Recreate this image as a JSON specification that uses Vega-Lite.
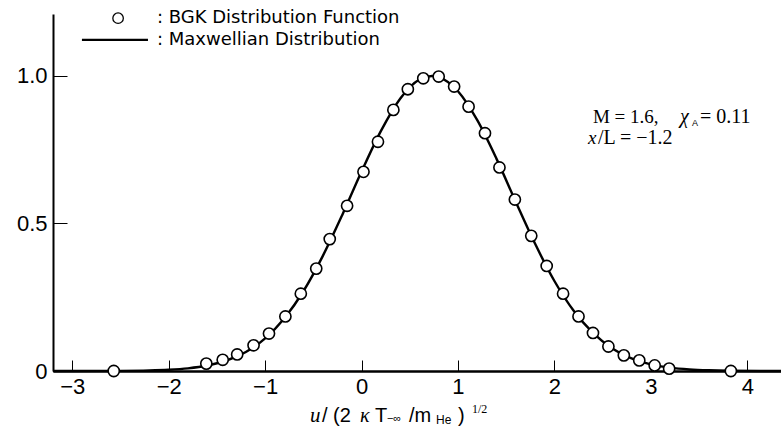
{
  "$schema": "https://vega.github.io/schema/vega-lite/v6.json",
  "width": 728,
  "height": 357,
  "autosize": {"type": "none"},
  "padding": {"left": 53, "top": 14, "right": 0, "bottom": 64},
  "background": "white",
  "config": {
    "view": {"stroke": null},
    "font": "Liberation Sans",
    "axis": {"grid": false}
  },
  "datasets": {
    "maxwell": [
      {"u": -3.2, "f": 0.0}, {"u": -2.5, "f": 0.0005}, {"u": -2.2, "f": 0.0018},
      {"u": -2.0, "f": 0.0042}, {"u": -1.8, "f": 0.009}, {"u": -1.6, "f": 0.0185},
      {"u": -1.4, "f": 0.0356}, {"u": -1.2, "f": 0.0646}, {"u": -1.0, "f": 0.1107},
      {"u": -0.8, "f": 0.179}, {"u": -0.6, "f": 0.272}, {"u": -0.4, "f": 0.391},
      {"u": -0.2, "f": 0.529}, {"u": 0.0, "f": 0.676}, {"u": 0.2, "f": 0.813},
      {"u": 0.4, "f": 0.923}, {"u": 0.6, "f": 0.988}, {"u": 0.73, "f": 1.0},
      {"u": 0.8, "f": 0.996}, {"u": 1.0, "f": 0.948}, {"u": 1.2, "f": 0.85},
      {"u": 1.4, "f": 0.719}, {"u": 1.6, "f": 0.573}, {"u": 1.8, "f": 0.431},
      {"u": 2.0, "f": 0.305}, {"u": 2.2, "f": 0.204}, {"u": 2.4, "f": 0.129},
      {"u": 2.6, "f": 0.0765}, {"u": 2.8, "f": 0.0428}, {"u": 3.0, "f": 0.0226},
      {"u": 3.2, "f": 0.0113}, {"u": 3.4, "f": 0.0053}, {"u": 3.6, "f": 0.0023},
      {"u": 3.8, "f": 0.0009}, {"u": 4.35, "f": 0.0}
    ],
    "bgk": [
      {"u": -2.57, "f": 0.0}, {"u": -1.61, "f": 0.025}, {"u": -1.44, "f": 0.038},
      {"u": -1.29, "f": 0.056}, {"u": -1.12, "f": 0.087}, {"u": -0.96, "f": 0.127},
      {"u": -0.79, "f": 0.185}, {"u": -0.63, "f": 0.262}, {"u": -0.47, "f": 0.347},
      {"u": -0.33, "f": 0.447}, {"u": -0.15, "f": 0.56}, {"u": 0.02, "f": 0.675},
      {"u": 0.17, "f": 0.777}, {"u": 0.33, "f": 0.885}, {"u": 0.48, "f": 0.955},
      {"u": 0.64, "f": 0.992}, {"u": 0.8, "f": 0.998}, {"u": 0.96, "f": 0.964},
      {"u": 1.11, "f": 0.896}, {"u": 1.28, "f": 0.806}, {"u": 1.43, "f": 0.69},
      {"u": 1.59, "f": 0.581}, {"u": 1.76, "f": 0.458}, {"u": 1.92, "f": 0.356},
      {"u": 2.09, "f": 0.262}, {"u": 2.25, "f": 0.185}, {"u": 2.4, "f": 0.129},
      {"u": 2.56, "f": 0.083}, {"u": 2.72, "f": 0.053}, {"u": 2.88, "f": 0.036},
      {"u": 3.04, "f": 0.019}, {"u": 3.19, "f": 0.008}, {"u": 3.83, "f": 0.0}
    ]
  },
  "layer": [
    {
      "data": {"name": "maxwell"},
      "mark": {"type": "line", "color": "black", "strokeWidth": 2.4, "interpolate": "monotone", "clip": false},
      "encoding": {
        "x": {
          "field": "u", "type": "quantitative",
          "scale": {"domain": [-3.2, 4.35], "nice": false, "zero": false},
          "axis": {
            "title": null,
            "values": [-3, -2, -1, 0, 1, 2, 3, 4],
            "format": "d",
            "tickSize": -11, "tickWidth": 1, "tickColor": "black",
            "domainColor": "black", "domainWidth": 2.5,
            "labelFontSize": 22, "labelColor": "black", "labelPadding": 16,
            "labelFont": "Liberation Sans"
          }
        },
        "y": {
          "field": "f", "type": "quantitative",
          "scale": {"domain": [0, 1.21], "nice": false},
          "axis": {
            "title": null,
            "values": [0, 0.5, 1.0],
            "labelExpr": "datum.value == 0 ? '0' : format(datum.value, '.1f')",
            "tickSize": -14, "tickWidth": 1, "tickColor": "black",
            "domainColor": "black", "domainWidth": 2,
            "labelFontSize": 22, "labelColor": "black", "labelPadding": 20,
            "labelFont": "Liberation Sans"
          }
        }
      }
    },
    {
      "data": {"name": "bgk"},
      "mark": {"type": "point", "shape": "circle", "filled": true, "fill": "white", "stroke": "black", "strokeWidth": 1.6, "size": 125, "opacity": 1, "clip": false},
      "encoding": {
        "x": {"field": "u", "type": "quantitative"},
        "y": {"field": "f", "type": "quantitative"}
      }
    },
    {
      "data": {"values": [{}]},
      "mark": {"type": "point", "shape": "circle", "filled": true, "fill": "white", "stroke": "black", "strokeWidth": 1.3, "size": 110, "opacity": 1},
      "encoding": {"x": {"datum": -2.525}, "y": {"datum": 1.196}}
    },
    {
      "data": {"values": [{}]},
      "mark": {"type": "rule", "color": "black", "strokeWidth": 2.2},
      "encoding": {"x": {"datum": -2.9}, "x2": {"datum": -2.215}, "y": {"datum": 1.122}}
    },
    {
      "data": {"values": [{}]},
      "mark": {"type": "text", "text": ": BGK Distribution Function", "align": "left", "baseline": "middle", "fontSize": 18, "font": "DejaVu Sans", "color": "black"},
      "encoding": {"x": {"datum": -2.122}, "y": {"datum": 1.196}}
    },
    {
      "data": {"values": [{}]},
      "mark": {"type": "text", "text": ": Maxwellian Distribution", "align": "left", "baseline": "middle", "fontSize": 18, "font": "DejaVu Sans", "color": "black"},
      "encoding": {"x": {"datum": -2.122}, "y": {"datum": 1.122}}
    },
    {
      "data": {"values": [{}]},
      "mark": {"type": "text", "text": "M = 1.6,", "align": "left", "baseline": "middle", "fontSize": 19, "font": "Liberation Serif", "color": "black"},
      "encoding": {"x": {"datum": 2.40}, "y": {"datum": 0.861}}
    },
    {
      "data": {"values": [{}]},
      "mark": {"type": "text", "text": "χ", "align": "left", "baseline": "middle", "fontSize": 20, "font": "Liberation Serif", "fontStyle": "italic", "color": "black"},
      "encoding": {"x": {"datum": 3.303}, "y": {"datum": 0.861}}
    },
    {
      "data": {"values": [{}]},
      "mark": {"type": "text", "text": "A", "align": "left", "baseline": "middle", "fontSize": 9, "font": "Liberation Sans", "color": "black"},
      "encoding": {"x": {"datum": 3.427}, "y": {"datum": 0.842}}
    },
    {
      "data": {"values": [{}]},
      "mark": {"type": "text", "text": "= 0.11", "align": "left", "baseline": "middle", "fontSize": 20, "font": "Liberation Serif", "color": "black"},
      "encoding": {"x": {"datum": 3.51}, "y": {"datum": 0.861}}
    },
    {
      "data": {"values": [{}]},
      "mark": {"type": "text", "text": "x", "align": "left", "baseline": "middle", "fontSize": 19, "font": "Liberation Serif", "fontStyle": "italic", "color": "black"},
      "encoding": {"x": {"datum": 2.348}, "y": {"datum": 0.79}}
    },
    {
      "data": {"values": [{}]},
      "mark": {"type": "text", "text": "/L  =  −1.2", "align": "left", "baseline": "middle", "fontSize": 20, "font": "Liberation Serif", "color": "black"},
      "encoding": {"x": {"datum": 2.452}, "y": {"datum": 0.79}}
    },
    {
      "data": {"values": [{}]},
      "mark": {"type": "text", "text": "u", "align": "left", "baseline": "middle", "fontSize": 21, "font": "Liberation Serif", "fontStyle": "italic", "color": "black"},
      "encoding": {"x": {"datum": -0.535}, "y": {"datum": -0.152}}
    },
    {
      "data": {"values": [{}]},
      "mark": {"type": "text", "text": "/ (2", "align": "left", "baseline": "middle", "fontSize": 20, "font": "Liberation Sans", "color": "black"},
      "encoding": {"x": {"datum": -0.411}, "y": {"datum": -0.152}}
    },
    {
      "data": {"values": [{}]},
      "mark": {"type": "text", "text": "κ", "align": "left", "baseline": "middle", "fontSize": 20, "font": "Liberation Serif", "fontStyle": "italic", "color": "black"},
      "encoding": {"x": {"datum": -0.017}, "y": {"datum": -0.152}}
    },
    {
      "data": {"values": [{}]},
      "mark": {"type": "text", "text": "T", "align": "left", "baseline": "middle", "fontSize": 20, "font": "Liberation Sans", "color": "black"},
      "encoding": {"x": {"datum": 0.139}, "y": {"datum": -0.152}}
    },
    {
      "data": {"values": [{}]},
      "mark": {"type": "text", "text": "−∞", "align": "left", "baseline": "middle", "fontSize": 11, "font": "Liberation Sans", "color": "black"},
      "encoding": {"x": {"datum": 0.263}, "y": {"datum": -0.163}}
    },
    {
      "data": {"values": [{}]},
      "mark": {"type": "text", "text": "/m", "align": "left", "baseline": "middle", "fontSize": 20, "font": "Liberation Sans", "color": "black"},
      "encoding": {"x": {"datum": 0.492}, "y": {"datum": -0.152}}
    },
    {
      "data": {"values": [{}]},
      "mark": {"type": "text", "text": "He", "align": "left", "baseline": "middle", "fontSize": 12, "font": "Liberation Sans", "color": "black"},
      "encoding": {"x": {"datum": 0.772}, "y": {"datum": -0.165}}
    },
    {
      "data": {"values": [{}]},
      "mark": {"type": "text", "text": ")", "align": "left", "baseline": "middle", "fontSize": 20, "font": "Liberation Sans", "color": "black"},
      "encoding": {"x": {"datum": 1.0}, "y": {"datum": -0.152}}
    },
    {
      "data": {"values": [{}]},
      "mark": {"type": "text", "text": "1/2", "align": "left", "baseline": "middle", "fontSize": 12, "font": "Liberation Serif", "color": "black"},
      "encoding": {"x": {"datum": 1.145}, "y": {"datum": -0.129}}
    }
  ]
}
